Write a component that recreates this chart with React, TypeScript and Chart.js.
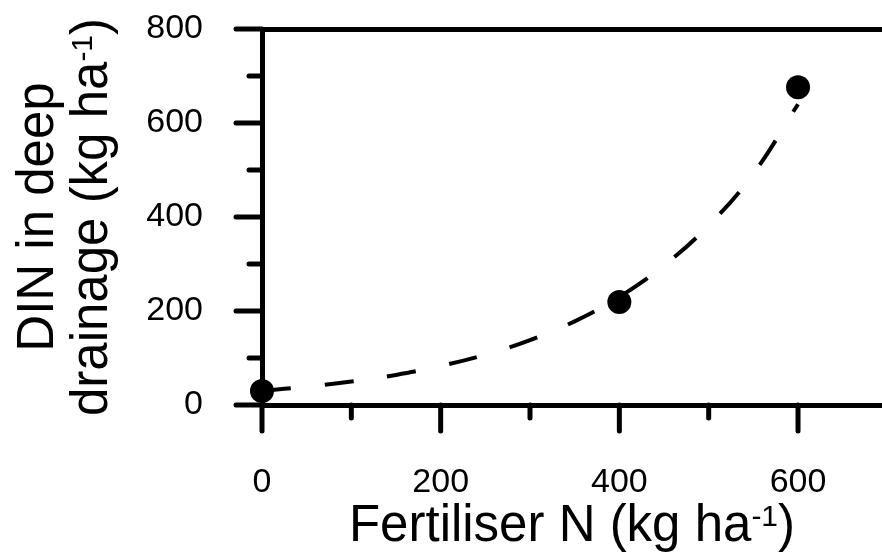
import React, { useEffect, useRef } from "react";
import { Chart, registerables } from "chart.js";

Chart.register(...registerables);

// ---- Data ----
const fertiliserN = [0, 400, 600];
const dinObserved = [30, 219, 676];

// fitted (dashed) curve
const fitX = [0, 50, 100, 150, 200, 250, 300, 350, 400, 450, 500, 550, 600];
const fitY = [30, 39, 50, 64, 83, 107, 138, 178, 230, 297, 382, 492, 640];

// ticks
const xMajorTicks = [0, 200, 400, 600];
const xMinorTicks = [100, 300, 500];
const yMajorTicks = [0, 200, 400, 600, 800];
const yMinorTicks = [100, 300, 500, 700];

const X_MIN = 0;
const X_MAX = 694;
const Y_MIN = 0;
const Y_MAX = 800;

// titles (with superscript part)
const xTitleParts = [
  { text: "Fertiliser N (kg ha", sup: false },
  { text: "-1", sup: true },
  { text: ")", sup: false },
];
const yTitleLine1 = [{ text: "DIN in deep", sup: false }];
const yTitleLine2 = [
  { text: "drainage (kg ha", sup: false },
  { text: "-1", sup: true },
  { text: ")", sup: false },
];

const FONT = "'Liberation Sans', Arial, Helvetica, sans-serif";
const TITLE_SIZE = 51;
const SUP_SIZE = 30;
const TICK_SIZE = 34;
const INK = "#000000";

type Part = { text: string; sup: boolean };

function drawRich(ctx: CanvasRenderingContext2D, parts: Part[], cx: number, baseY: number) {
  const mainFont = `${TITLE_SIZE}px ${FONT}`;
  const supFont = `${SUP_SIZE}px ${FONT}`;
  let total = 0;
  const widths = parts.map((p) => {
    ctx.font = p.sup ? supFont : mainFont;
    const w = ctx.measureText(p.text).width;
    total += w;
    return w;
  });
  let x = cx - total / 2;
  ctx.textAlign = "left";
  ctx.textBaseline = "alphabetic";
  parts.forEach((p, i) => {
    ctx.font = p.sup ? supFont : mainFont;
    ctx.fillText(p.text, x, p.sup ? baseY - 15 : baseY);
    x += widths[i];
  });
}

const zeroPadding = (s: any) => {
  s.paddingTop = 0;
  s.paddingBottom = 0;
  s.paddingLeft = 0;
  s.paddingRight = 0;
};

const tickMarksPlugin = {
  id: "tickMarks",
  beforeDatasetsDraw(chart: any) {
    const { ctx, scales } = chart;
    const xs = scales.x;
    const ys = scales.y;
    const area = chart.chartArea;
    ctx.save();
    ctx.strokeStyle = INK;
    ctx.lineWidth = 5;
    ctx.lineCap = "round";
    const majorLen = 26;
    const minorLen = 13;
    const drawX = (v: number, len: number) => {
      const px = xs.getPixelForValue(v);
      ctx.beginPath();
      ctx.moveTo(px, area.bottom);
      ctx.lineTo(px, area.bottom + len);
      ctx.stroke();
    };
    const drawY = (v: number, len: number) => {
      const py = ys.getPixelForValue(v);
      ctx.beginPath();
      ctx.moveTo(area.left, py);
      ctx.lineTo(area.left - len, py);
      ctx.stroke();
    };
    xMajorTicks.forEach((v) => drawX(v, majorLen));
    xMinorTicks.forEach((v) => drawX(v, minorLen));
    yMajorTicks.forEach((v) => drawY(v, majorLen));
    yMinorTicks.forEach((v) => drawY(v, minorLen));
    ctx.restore();
  },
  afterDraw(chart: any) {
    const { ctx } = chart;
    const area = chart.chartArea;
    ctx.save();
    ctx.fillStyle = INK;
    // x title
    drawRich(ctx, xTitleParts, (area.left + area.right) / 2, 541);
    // y title (rotated)
    const cy = (area.top + area.bottom) / 2;
    ctx.translate(0, cy);
    ctx.rotate(-Math.PI / 2);
    drawRich(ctx, yTitleLine1, 0, 53);
    drawRich(ctx, yTitleLine2, 0, 107);
    ctx.restore();
  },
};

export default function App() {
  const canvasRef = useRef<HTMLCanvasElement | null>(null);

  useEffect(() => {
    document.body.style.margin = "0";
    const canvas = canvasRef.current;
    if (!canvas) return;

    const chart = new Chart(canvas, {
      type: "scatter",
      data: {
        datasets: [
          {
            label: "Observed",
            data: fertiliserN.map((x, i) => ({ x, y: dinObserved[i] })),
            backgroundColor: INK,
            borderColor: INK,
            borderWidth: 0,
            pointRadius: 12,
            pointHoverRadius: 12,
            showLine: false,
            clip: false as any,
            order: 0,
          },
          {
            label: "Fit",
            data: fitX.map((x, i) => ({ x, y: fitY[i] })),
            showLine: true,
            borderColor: INK,
            borderWidth: 4,
            borderDash: [29, 34],
            pointRadius: 0,
            tension: 0.4,
            fill: false,
            clip: false as any,
            order: 1,
          } as any,
        ],
      },
      options: {
        animation: false,
        responsive: false,
        events: [],
        layout: { autoPadding: false, padding: { top: 29, right: 0, left: 0, bottom: 0 } },
        plugins: {
          legend: { display: false },
          tooltip: { enabled: false },
          title: { display: false },
        },
        scales: {
          x: {
            type: "linear",
            position: "bottom",
            min: X_MIN,
            max: X_MAX,
            grid: { display: false, drawTicks: false, tickLength: 0 },
            border: { display: true, width: 5, color: INK },
            afterFit: (s: any) => {
              s.height = 154;
              zeroPadding(s);
            },
            afterBuildTicks: (s: any) => {
              s.ticks = xMajorTicks.map((v) => ({ value: v }));
            },
            ticks: {
              padding: 57,
              color: INK,
              font: { family: FONT, size: TICK_SIZE },
              maxRotation: 0,
              autoSkip: false,
              callback: (v: any) => String(v),
            },
          },
          x2: {
            type: "linear",
            position: "top",
            display: true,
            grid: { display: false, drawTicks: false, tickLength: 0 },
            border: { display: true, width: 5, color: INK },
            ticks: { display: false },
            afterFit: (s: any) => {
              s.height = 0;
              zeroPadding(s);
            },
          },
          y: {
            type: "linear",
            position: "left",
            min: Y_MIN,
            max: Y_MAX,
            grid: { display: false, drawTicks: false, tickLength: 0 },
            border: { display: true, width: 5, color: INK },
            afterFit: (s: any) => {
              s.width = 262;
              zeroPadding(s);
            },
            afterBuildTicks: (s: any) => {
              s.ticks = yMajorTicks.map((v) => ({ value: v }));
            },
            ticks: {
              padding: 59,
              color: INK,
              font: { family: FONT, size: TICK_SIZE },
              autoSkip: false,
              callback: (v: any) => String(v),
            },
          },
        } as any,
      },
      plugins: [tickMarksPlugin],
    });

    return () => {
      chart.destroy();
    };
  }, []);

  return (
    <div style={{ width: 882, height: 559, background: "#ffffff" }}>
      <canvas ref={canvasRef} width={882} height={559} />
    </div>
  );
}
